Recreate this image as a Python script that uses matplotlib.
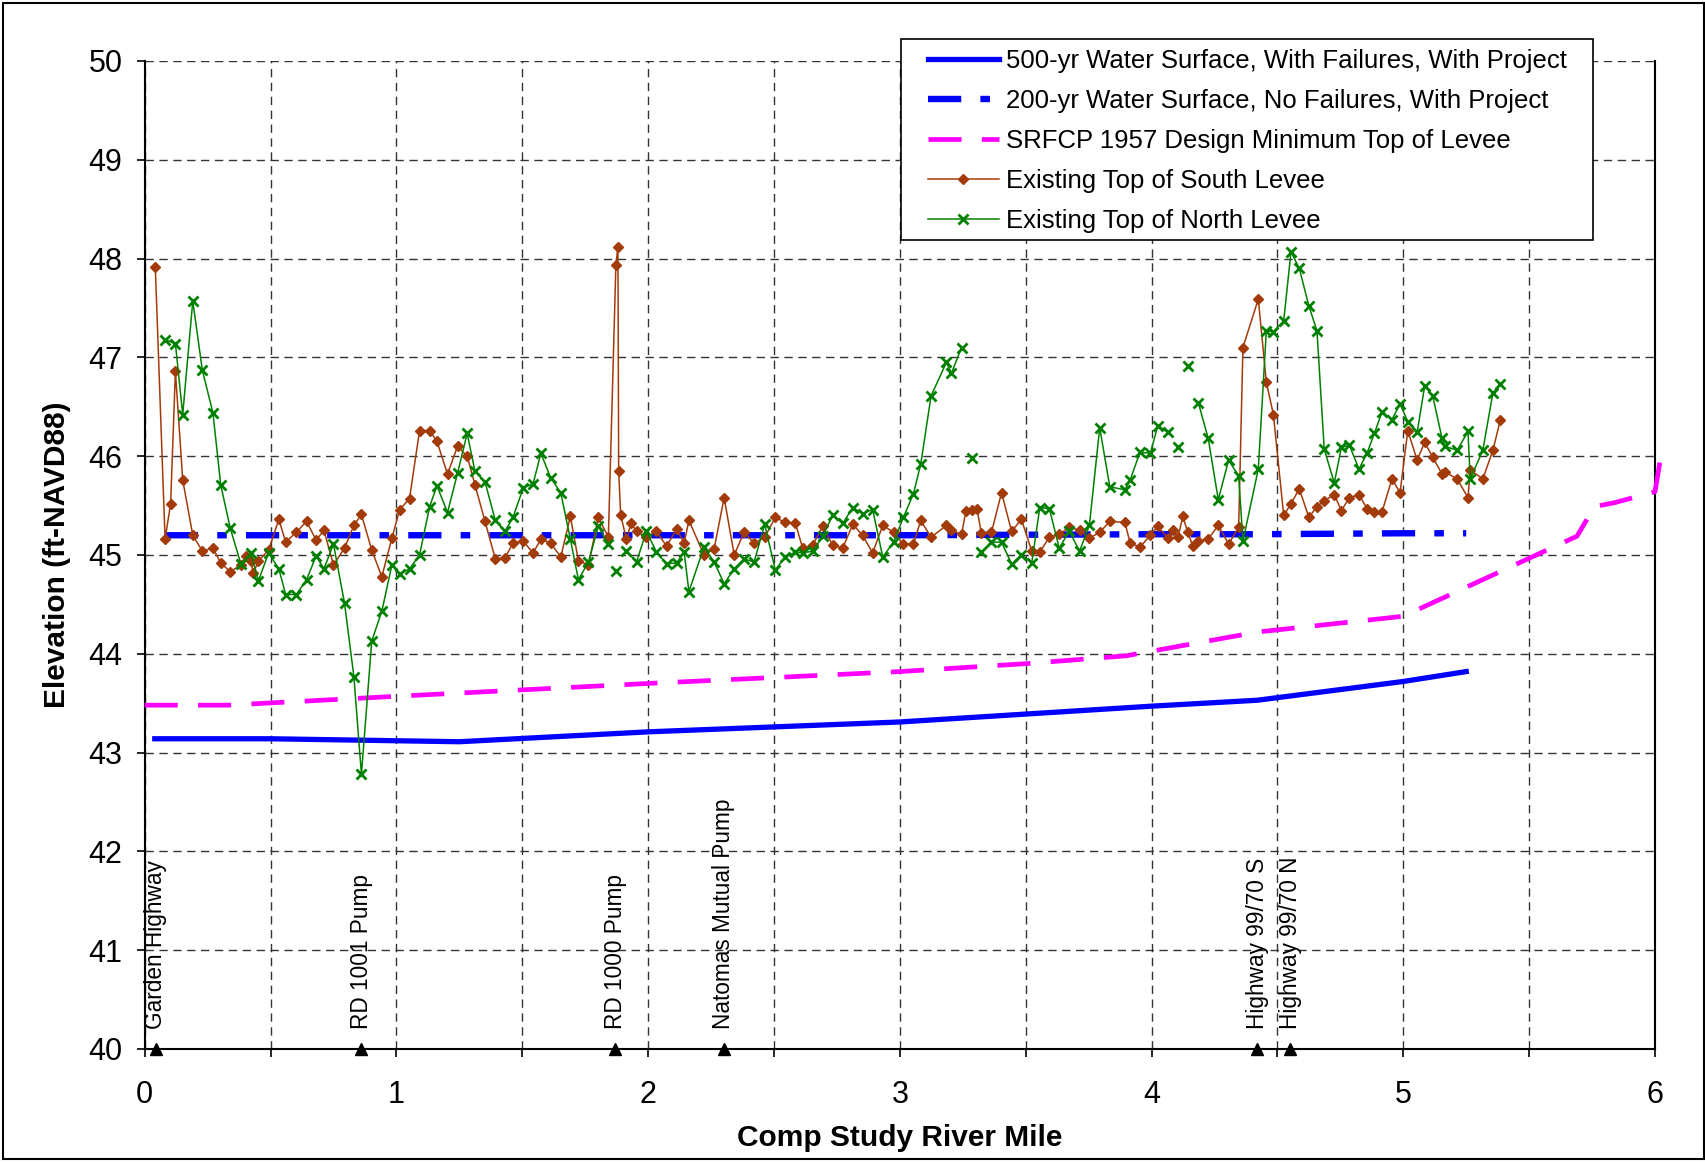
import numpy as np
import matplotlib
matplotlib.use('Agg')
import matplotlib.pyplot as plt
from matplotlib.patches import Rectangle

plt.rcParams['font.family'] = ['Liberation Sans', 'DejaVu Sans']

# 500-yr water surface, with failures, with project
ws500_x = [0.04, 0.5, 1.0, 1.25, 2.0, 2.5, 3.0, 3.5, 4.0, 4.42, 5.0, 5.25]
ws500_y = [43.14, 43.14, 43.12, 43.11, 43.21, 43.26, 43.31, 43.39, 43.47, 43.53, 43.72, 43.82]

# 200-yr water surface, no failures, with project
ws200_x = [0.08, 1.0, 2.0, 3.0, 4.0, 4.42, 5.0, 5.25]
ws200_y = [45.20, 45.20, 45.20, 45.20, 45.21, 45.21, 45.22, 45.22]

# SRFCP 1957 design minimum top of levee
design_x = [0.0, 0.33, 1.0, 2.0, 3.0, 3.5, 3.9, 4.42, 5.0, 5.69, 5.76, 5.84, 6.0, 6.02]
design_y = [43.48, 43.48, 43.57, 43.70, 43.82, 43.90, 43.98, 44.22, 44.38, 45.19, 45.49, 45.53, 45.64, 45.95]

south_x = [0.042, 0.081, 0.103, 0.122, 0.151, 0.191, 0.229, 0.271, 0.302, 0.340,
           0.382, 0.403, 0.421, 0.432, 0.452, 0.492, 0.533, 0.560, 0.602, 0.643,
           0.681, 0.712, 0.750, 0.794, 0.831, 0.861, 0.902, 0.942, 0.982, 1.013,
           1.052, 1.092, 1.132, 1.161, 1.203, 1.243, 1.281, 1.312, 1.352, 1.393,
           1.431, 1.463, 1.504, 1.543, 1.574, 1.613, 1.653, 1.691, 1.723, 1.763,
           1.802, 1.842, 1.872, 1.880, 1.883, 1.891, 1.914, 1.932, 1.954, 1.993,
           2.033, 2.073, 2.113, 2.143, 2.162, 2.222, 2.262, 2.302, 2.342, 2.381,
           2.421, 2.463, 2.505, 2.545, 2.585, 2.614, 2.654, 2.693, 2.733, 2.773,
           2.813, 2.852, 2.892, 2.932, 2.975, 3.014, 3.054, 3.083, 3.124, 3.185,
           3.205, 3.245, 3.263, 3.285, 3.306, 3.324, 3.364, 3.404, 3.444, 3.483,
           3.524, 3.556, 3.594, 3.633, 3.673, 3.714, 3.753, 3.794, 3.834, 3.894,
           3.915, 3.954, 3.995, 4.025, 4.065, 4.085, 4.105, 4.124, 4.144, 4.164,
           4.186, 4.225, 4.265, 4.306, 4.346, 4.363, 4.424, 4.456, 4.484, 4.525,
           4.554, 4.587, 4.625, 4.657, 4.686, 4.726, 4.754, 4.786, 4.824, 4.856,
           4.885, 4.916, 4.955, 4.987, 5.018, 5.055, 5.085, 5.117, 5.154, 5.166,
           5.214, 5.257, 5.266, 5.316, 5.356, 5.386]
south_y = [47.92, 45.16, 45.52, 46.86, 45.76, 45.20, 45.04, 45.07, 44.92, 44.83,
           44.90, 44.99, 44.94, 44.82, 44.94, 45.05, 45.36, 45.13, 45.23, 45.34,
           45.15, 45.25, 44.90, 45.07, 45.30, 45.41, 45.05, 44.78, 45.17, 45.46,
           45.57, 46.26, 46.26, 46.15, 45.82, 46.10, 46.00, 45.71, 45.34, 44.96,
           44.97, 45.12, 45.14, 45.02, 45.16, 45.12, 44.98, 45.39, 44.94, 44.90,
           45.38, 45.18, 47.94, 48.12, 45.85, 45.40, 45.16, 45.32, 45.24, 45.18,
           45.24, 45.09, 45.26, 45.12, 45.35, 45.00, 45.06, 45.58, 45.00, 45.23,
           45.12, 45.18, 45.38, 45.33, 45.32, 45.07, 45.10, 45.29, 45.10, 45.07,
           45.31, 45.20, 45.02, 45.30, 45.23, 45.11, 45.11, 45.35, 45.18, 45.30,
           45.25, 45.21, 45.45, 45.46, 45.47, 45.22, 45.23, 45.63, 45.24, 45.36,
           45.04, 45.03, 45.18, 45.21, 45.28, 45.25, 45.17, 45.23, 45.34, 45.33,
           45.12, 45.08, 45.20, 45.29, 45.17, 45.25, 45.18, 45.39, 45.23, 45.09,
           45.14, 45.16, 45.30, 45.11, 45.28, 47.10, 47.59, 46.75, 46.42, 45.40,
           45.52, 45.67, 45.38, 45.49, 45.55, 45.61, 45.45, 45.58, 45.61, 45.47,
           45.44, 45.44, 45.77, 45.63, 46.26, 45.96, 46.14, 45.99, 45.82, 45.84,
           45.77, 45.58, 45.86, 45.77, 46.06, 46.37]

nan = np.nan
north_x = [0.081, 0.122, 0.151, 0.191, 0.229, 0.271, 0.302, 0.340, 0.382, 0.421,
           0.452, 0.492, 0.533, 0.560, 0.602, 0.643, 0.681, 0.712, 0.750, 0.794,
           0.831, 0.861, 0.902, 0.942, 0.982, 1.013, 1.052, 1.092, 1.132, 1.161,
           1.203, 1.243, 1.281, 1.312, 1.352, 1.393, 1.431, 1.463, 1.504, 1.543,
           1.574, 1.613, 1.653, 1.691, 1.723, 1.763, 1.802, 1.842, nan, 1.872,
           nan, 1.914, 1.954, 1.993, 2.033, 2.073, 2.113, 2.143, 2.162, 2.222,
           2.262, 2.302, 2.342, 2.381, 2.421, 2.463, 2.505, 2.545, 2.585, 2.614,
           2.654, 2.693, 2.733, 2.773, 2.813, 2.852, 2.892, 2.932, 2.975, 3.014,
           3.054, 3.083, 3.124, 3.185, 3.205, 3.245, nan, 3.285, nan, 3.324,
           3.364, 3.404, 3.444, 3.483, 3.524, 3.556, 3.594, 3.633, 3.673, 3.714,
           3.753, 3.794, 3.834, 3.894, 3.915, 3.954, 3.995, 4.025, 4.065, nan,
           4.105, nan, 4.143, nan, 4.186, 4.225, 4.265, 4.306, 4.346, 4.363,
           4.424, 4.456, 4.484, 4.525, 4.554, 4.587, 4.625, 4.657, 4.686, 4.726,
           4.754, 4.786, 4.824, 4.856, 4.885, 4.916, 4.955, 4.987, 5.018, 5.055,
           5.085, 5.117, 5.154, 5.166, 5.214, 5.257, 5.266, 5.316, 5.356, 5.386]
north_y = [47.18, 47.14, 46.42, 47.57, 46.87, 46.44, 45.71, 45.27, 44.91, 45.02,
           44.74, 45.02, 44.86, 44.60, 44.60, 44.75, 44.99, 44.86, 45.11, 44.51,
           43.77, 42.78, 44.13, 44.43, 44.90, 44.81, 44.86, 45.00, 45.49, 45.70,
           45.43, 45.83, 46.23, 45.85, 45.74, 45.35, 45.24, 45.38, 45.68, 45.72,
           46.03, 45.78, 45.63, 45.16, 44.75, 44.93, 45.29, 45.11, nan, 44.84,
           nan, 45.04, 44.93, 45.24, 45.03, 44.91, 44.92, 45.03, 44.63, 45.08,
           44.93, 44.71, 44.86, 44.96, 44.93, 45.31, 44.85, 44.98, 45.03, 45.02,
           45.04, 45.19, 45.40, 45.32, 45.48, 45.42, 45.46, 44.98, 45.13, 45.38,
           45.62, 45.92, 46.61, 46.95, 46.84, 47.10, nan, 45.98, nan, 45.03,
           45.13, 45.13, 44.91, 45.00, 44.92, 45.48, 45.47, 45.07, 45.24, 45.04,
           45.30, 46.29, 45.69, 45.66, 45.76, 46.04, 46.03, 46.31, 46.24, nan,
           46.09, nan, 46.91, nan, 46.54, 46.18, 45.56, 45.96, 45.80, 45.14,
           45.87, 47.27, 47.26, 47.37, 48.07, 47.90, 47.52, 47.27, 46.07, 45.73,
           46.09, 46.11, 45.87, 46.03, 46.23, 46.45, 46.37, 46.53, 46.35, 46.24,
           46.71, 46.61, 46.18, 46.10, 46.06, 46.25, 45.77, 46.06, 46.64, 46.73]

landmark_x = [0.043, 0.86, 1.87, 2.30, 4.42, 4.55]
landmark_names = ['Garden Highway', 'RD 1001 Pump', 'RD 1000 Pump',
                  'Natomas Mutual Pump', 'Highway 99/70 S', 'Highway 99/70 N']

W, H = 1705, 1162
fig = plt.figure(figsize=(W / 100, H / 100), dpi=100)
ax = fig.add_axes([144.7 / W, 1 - 1049 / H, (1655 - 144.7) / W, (1049 - 61) / H])

l1, = ax.plot(ws500_x, ws500_y, color='#0000FF', lw=3.8, zorder=3,
              label='500-yr Water Surface, With Failures, With Project')
l2, = ax.plot(ws200_x, ws200_y, color='#0000FF', lw=4.6, zorder=4,
              dashes=(5.2, 3.0, 1.5, 3.0),
              label='200-yr Water Surface, No Failures, With Project')
l3, = ax.plot(design_x, design_y, color='#FF00FF', lw=3.4, zorder=5,
              dashes=(7.0, 4.3), clip_on=False,
              label='SRFCP 1957 Design Minimum Top of Levee')
l4, = ax.plot(south_x, south_y, color='#A33A0A', lw=1.1, marker='D', ms=5,
              zorder=6, label='Existing Top of South Levee')
l5, = ax.plot(north_x, north_y, color='#008000', lw=1.1, marker='x', ms=7,
              mew=2.0, zorder=7, label='Existing Top of North Levee')

# landmarks along the bottom
ax.plot(landmark_x, [40] * len(landmark_x), linestyle='none', marker='^',
        color='black', ms=8, clip_on=False, zorder=8)
for lx, name in zip(landmark_x, landmark_names):
    ax.text(lx, 40.2, name, rotation=90, ha='center', va='bottom', fontsize=16.3)

ax.set_xlim(0, 6)
ax.set_ylim(40, 50)
ax.set_xticks(np.arange(0, 6.01, 0.5))
ax.set_xticklabels([str(int(v)) if v == int(v) else '' for v in np.arange(0, 6.01, 0.5)])
ax.set_yticks(np.arange(40, 50.1, 1))
ax.tick_params(axis='both', labelsize=22, direction='out', length=6, width=1.2)
ax.tick_params(axis='x', pad=16)
ax.tick_params(axis='y', pad=10)
ax.grid(True, color='#333333', linestyle=(0, (6, 4)), linewidth=1.0)
ax.set_axisbelow(True)

ax.spines['top'].set_visible(False)
for side in ['left', 'bottom', 'right']:
    ax.spines[side].set_linewidth(1.5)

ax.set_xlabel('Comp Study River Mile', fontsize=21.5, fontweight='bold')
ax.set_ylabel('Elevation (ft-NAVD88)', fontsize=21.5, fontweight='bold')
ax.xaxis.set_label_coords(0.5, -0.076)
ax.yaxis.set_label_coords(-0.049, 0.5)

# legend box drawn separately so the padding can match
fig.patches.append(Rectangle((901 / W, 1 - 240 / H), (1593 - 901) / W, (240 - 39) / H,
                             transform=fig.transFigure, facecolor='white',
                             edgecolor='black', linewidth=1.2, zorder=4))
leg = fig.legend(handles=[l1, l2, l3, l4, l5], loc='upper left',
                 bbox_to_anchor=(928 / W, 1 - 49 / H), bbox_transform=fig.transFigure,
                 borderaxespad=0, borderpad=0, fontsize=18.5, frameon=False,
                 handlelength=2.75, handletextpad=0.3, labelspacing=0.62)
leg.set_zorder(6)

# outer chart border
fig.patches.append(Rectangle((3 / W, 3 / H), 1 - 4 / W, 1 - 6 / H, transform=fig.transFigure,
                             fill=False, edgecolor='black', linewidth=1.5))

fig.savefig('out.png', dpi=100)
